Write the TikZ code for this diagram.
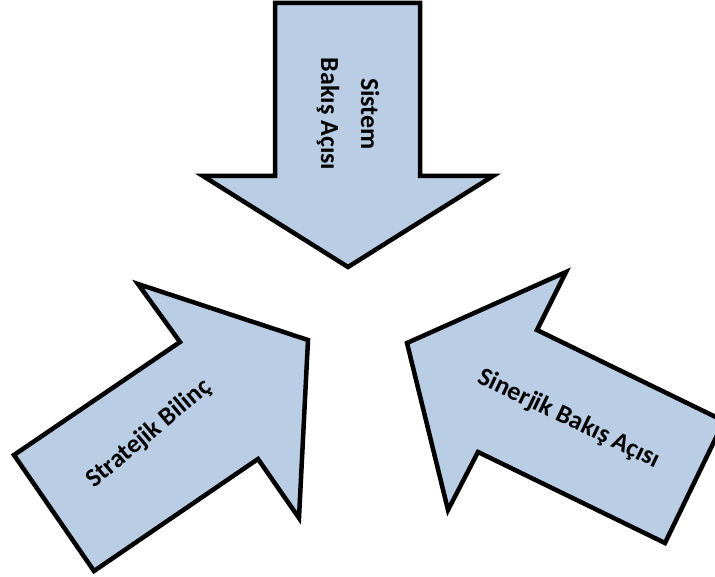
\documentclass[tikz,border=0pt]{standalone}
\usepackage{fontspec}
\setmainfont{Carlito}
\definecolor{okmavi}{RGB}{185,205,229}
\tikzset{
  blok/.style={fill=okmavi, draw=black, line width=4.5pt},
  yazi/.style={font=\fontsize{26}{40}\selectfont\bfseries, align=center, inner sep=0pt}
}
\begin{document}
\begin{tikzpicture}[x=1pt,y=-1pt]
    \useasboundingbox (0,0) rectangle (715,577);
    \clip (0,0) rectangle (715,577);
    % ust ok
    \filldraw[blok] (275,3) -- (420,3) -- (420,176) -- (493,176) -- (348,267) -- (203,176) -- (275,176) -- cycle;
    % sol ok
    \filldraw[blok] (14,455) -- (180,342) -- (138,284) -- (308,340) -- (299,518) -- (258,459) -- (94,571) -- cycle;
    % sag ok
    \filldraw[blok] (407,343) -- (566,272) -- (537,330) -- (724,421) -- (665,543) -- (478,452) -- (448,510) -- cycle;
    \node[yazi, rotate=-90] (sistem) at (348,114) {Sistem\\Bakış Açısı};
    \node[yazi, rotate=40] (strateji) at (149,434) {Stratejik Bilinç};
    \node[yazi, rotate=-25.6] (sinerji) at (569,419) {Sinerjik Bakış Açısı};
\end{tikzpicture}
\end{document}
